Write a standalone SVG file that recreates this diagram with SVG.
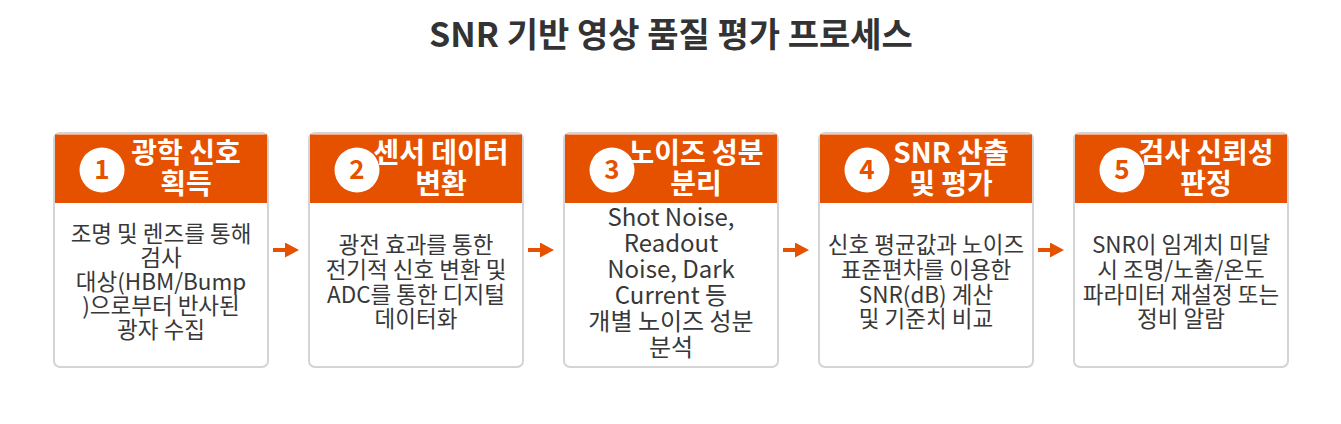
<svg xmlns="http://www.w3.org/2000/svg" width="1341" height="424" viewBox="0 0 1341 424">
  <defs>
    <style>
      text { font-family: "Noto Sans CJK KR", "Noto Sans", sans-serif; }
      .title { font-size: 34px; font-weight: bold; fill: #333333; }
      .card { fill: #ffffff; stroke: #d4d4d4; stroke-width: 2; }
      .hdr { fill: #e65100; }
      .circ { fill: #ffffff; }
      .num { font-size: 26px; font-weight: bold; fill: #e65100; }
      .htxt { font-size: 28px; font-weight: bold; fill: #ffffff; }
      .body { font-size: 22.5px; fill: #383838; }
      .body3 { font-size: 24px; fill: #383838; }
      .conn { stroke: #e65100; stroke-width: 4; fill: none; }
    </style>
    <marker id="ah" viewBox="0 0 14 15" refX="0" refY="7.5" markerWidth="14" markerHeight="15" markerUnits="userSpaceOnUse" orient="auto">
      <path d="M0,0 L14,7.5 L0,15 Z" fill="#e65100"/>
    </marker>
  </defs>
  <rect width="1341" height="424" fill="#ffffff"/>
  <text class="title" x="671" y="47" text-anchor="middle">SNR 기반 영상 품질 평가 프로세스</text>

  <g id="connectors">
    <line class="conn" x1="273" y1="250" x2="285" y2="250" marker-end="url(#ah)"/>
    <line class="conn" x1="528" y1="250" x2="540" y2="250" marker-end="url(#ah)"/>
    <line class="conn" x1="783" y1="250" x2="795" y2="250" marker-end="url(#ah)"/>
    <line class="conn" x1="1038" y1="250" x2="1050" y2="250" marker-end="url(#ah)"/>
  </g>

  <g id="node1">
    <rect class="card" x="54" y="133" width="214" height="234" rx="6"/>
    <rect class="hdr" x="55" y="134.5" width="212" height="68.5"/>
    <circle class="circ" cx="102" cy="170" r="22.5"/>
    <text class="num" x="102" y="179" text-anchor="middle">1</text>
    <text class="htxt" text-anchor="middle"><tspan x="186" y="163">광학 신호</tspan><tspan x="186" y="194">획득</tspan></text>
    <text class="body" text-anchor="middle"><tspan x="161" y="242">조명 및 렌즈를 통해</tspan><tspan x="161" y="266">검사</tspan><tspan x="161" y="290">대상(HBM/Bump</tspan><tspan x="161" y="314">)으로부터 반사된</tspan><tspan x="161" y="338">광자 수집</tspan></text>
  </g>

  <g id="node2">
    <rect class="card" x="309" y="133" width="214" height="234" rx="6"/>
    <rect class="hdr" x="310" y="134.5" width="212" height="68.5"/>
    <circle class="circ" cx="357" cy="170" r="22.5"/>
    <text class="num" x="357" y="179" text-anchor="middle">2</text>
    <text class="htxt" text-anchor="middle"><tspan x="441" y="163">센서 데이터</tspan><tspan x="441" y="194">변환</tspan></text>
    <text class="body" text-anchor="middle"><tspan x="416" y="253">광전 효과를 통한</tspan><tspan x="416" y="278">전기적 신호 변환 및</tspan><tspan x="416" y="303">ADC를 통한 디지털</tspan><tspan x="416" y="327">데이터화</tspan></text>
  </g>

  <g id="node3">
    <rect class="card" x="564" y="133" width="214" height="234" rx="6"/>
    <rect class="hdr" x="565" y="134.5" width="212" height="68.5"/>
    <circle class="circ" cx="612" cy="170" r="22.5"/>
    <text class="num" x="612" y="179" text-anchor="middle">3</text>
    <text class="htxt" text-anchor="middle"><tspan x="696" y="163">노이즈 성분</tspan><tspan x="696" y="194">분리</tspan></text>
    <text class="body3" text-anchor="middle"><tspan x="671" y="226">Shot Noise,</tspan><tspan x="671" y="252">Readout</tspan><tspan x="671" y="278">Noise, Dark</tspan><tspan x="671" y="304">Current 등</tspan><tspan x="671" y="330">개별 노이즈 성분</tspan><tspan x="671" y="356">분석</tspan></text>
  </g>

  <g id="node4">
    <rect class="card" x="819" y="133" width="214" height="234" rx="6"/>
    <rect class="hdr" x="820" y="134.5" width="212" height="68.5"/>
    <circle class="circ" cx="867" cy="170" r="22.5"/>
    <text class="num" x="867" y="179" text-anchor="middle">4</text>
    <text class="htxt" text-anchor="middle"><tspan x="951" y="163">SNR 산출</tspan><tspan x="951" y="194">및 평가</tspan></text>
    <text class="body" text-anchor="middle"><tspan x="926" y="253">신호 평균값과 노이즈</tspan><tspan x="926" y="278">표준편차를 이용한</tspan><tspan x="926" y="303">SNR(dB) 계산</tspan><tspan x="926" y="327">및 기준치 비교</tspan></text>
  </g>

  <g id="node5">
    <rect class="card" x="1074" y="133" width="214" height="234" rx="6"/>
    <rect class="hdr" x="1075" y="134.5" width="212" height="68.5"/>
    <circle class="circ" cx="1122" cy="170" r="22.5"/>
    <text class="num" x="1122" y="179" text-anchor="middle">5</text>
    <text class="htxt" text-anchor="middle"><tspan x="1206" y="163">검사 신뢰성</tspan><tspan x="1206" y="194">판정</tspan></text>
    <text class="body" text-anchor="middle"><tspan x="1181" y="253">SNR이 임계치 미달</tspan><tspan x="1181" y="278">시 조명/노출/온도</tspan><tspan x="1181" y="303">파라미터 재설정 또는</tspan><tspan x="1181" y="327">정비 알람</tspan></text>
  </g>
</svg>
